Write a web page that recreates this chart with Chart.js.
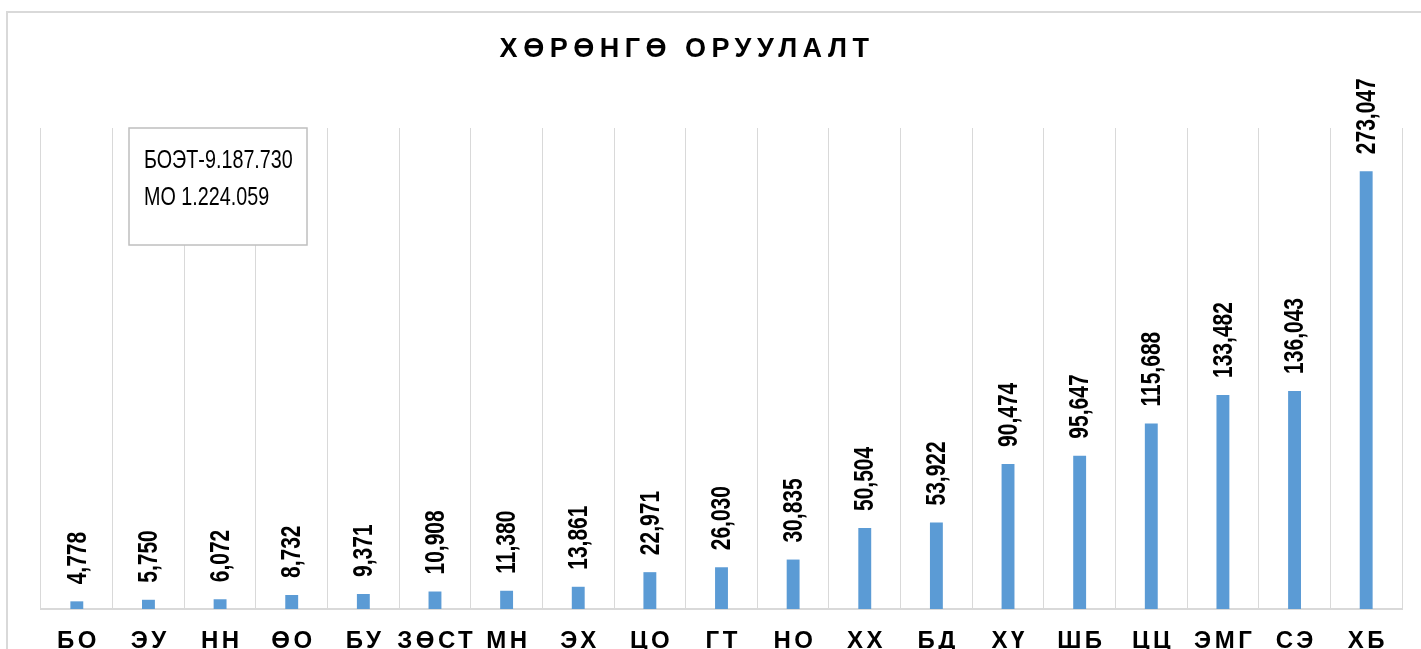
<!DOCTYPE html>
<html>
<head>
<meta charset="utf-8">
<script src="https://cdn.jsdelivr.net/npm/chart.js@4.4.1/dist/chart.umd.min.js"></script>
<style>
  html, body { margin: 0; padding: 0; background: #fff; }
  canvas { display: block; }
</style>
</head>
<body>
<canvas id="invest" width="1421" height="649"></canvas>
<script>
// Хөрөнгө оруулалт
const chartTitle = "ХӨРӨНГӨ ОРУУЛАЛТ";
const regions = ["БО", "ЭУ", "НН", "ӨО", "БУ", "ЗӨСТ", "МН", "ЭХ", "ЦО", "ГТ",
  "НО", "ХХ", "БД", "ХҮ", "ШБ", "ЦЦ", "ЭМГ", "СЭ", "ХБ"];
const amounts = [4778, 5750, 6072, 8732, 9371, 10908, 11380, 13861, 22971, 26030,
  30835, 50504, 53922, 90474, 95647, 115688, 133482, 136043, 273047];
const noteLines = ["БОЭТ-9.187.730", "МО 1.224.059"];

const gridGray = "#d9d9d9";
const labelSpacing = 3.5;
const sans = "'Liberation Sans', Arial, sans-serif";

// frame, title, letter spacing for the category labels
const decor = {
  id: "decor",
  beforeDraw(chart) {
    const ctx = chart.ctx;
    ctx.save();
    ctx.strokeStyle = gridGray;
    ctx.lineWidth = 2;
    ctx.beginPath();
    ctx.moveTo(7, 649);
    ctx.lineTo(7, 12);
    ctx.lineTo(1421, 12);
    ctx.stroke();

    ctx.fillStyle = "#000";
    ctx.font = "bold 27px " + sans;
    ctx.letterSpacing = "5.5px";
    ctx.textAlign = "center";
    ctx.textBaseline = "middle";
    ctx.fillText(chartTitle, 687, 50);
    ctx.restore();
    ctx.letterSpacing = labelSpacing + "px";
  },
  beforeDatasetsDraw(chart) {
    chart.ctx.letterSpacing = "0px";
  },
  afterDatasetsDraw(chart) {
    const ctx = chart.ctx;
    const meta = chart.getDatasetMeta(0);
    ctx.save();
    ctx.fillStyle = "#000";
    ctx.font = "bold 28px " + sans;
    ctx.textAlign = "left";
    ctx.textBaseline = "middle";
    meta.data.forEach((bar, i) => {
      ctx.save();
      ctx.translate(bar.x + 1, bar.y - 17);
      ctx.rotate(-Math.PI / 2);
      ctx.scale(0.75, 1);
      ctx.fillText(amounts[i].toLocaleString("en-US"), 0, 0);
      ctx.restore();
    });
    ctx.restore();
  },
  afterDraw(chart) {
    const ctx = chart.ctx;
    ctx.save();
    ctx.fillStyle = "#fff";
    ctx.fillRect(129, 128, 178, 117);
    ctx.strokeStyle = "#bfbfbf";
    ctx.lineWidth = 1.5;
    ctx.strokeRect(129, 128, 178, 117);
    ctx.fillStyle = "#000";
    ctx.font = "25px " + sans;
    ctx.textAlign = "left";
    ctx.textBaseline = "alphabetic";
    ctx.translate(144, 0);
    ctx.scale(0.79, 1);
    ctx.fillText(noteLines[0], 0, 168);
    ctx.fillText(noteLines[1], 0, 205);
    ctx.restore();
  }
};

new Chart(document.getElementById("invest"), {
  type: "bar",
  data: {
    labels: regions,
    datasets: [{
      data: amounts,
      backgroundColor: "#5b9bd5",
      borderWidth: 0,
      barPercentage: 0.18,
      categoryPercentage: 1
    }]
  },
  options: {
    responsive: false,
    animation: false,
    layout: { padding: { top: 128, left: 41, right: 19, bottom: 0 } },
    plugins: { legend: { display: false }, tooltip: { enabled: false } },
    scales: {
      x: {
        grid: { color: gridGray, lineWidth: 1, offset: true, drawTicks: false },
        border: { color: gridGray, width: 2 },
        ticks: {
          color: "#000",
          padding: 18,
          labelOffset: labelSpacing / 2,
          maxRotation: 0,
          autoSkip: false,
          font: { family: sans, size: 24, weight: "bold" }
        },
        afterFit(scale) { scale.height = 40; }
      },
      y: { display: false, min: 0, max: 300000 }
    }
  },
  plugins: [decor]
});
</script>
</body>
</html>
